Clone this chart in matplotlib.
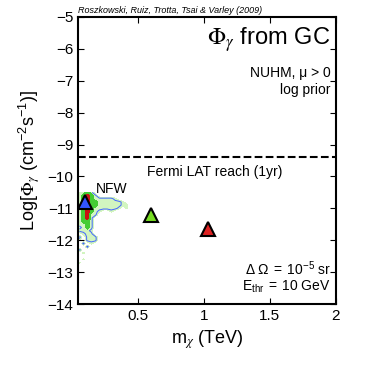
import matplotlib.pyplot as plt
import numpy as np

plt.rcParams['font.family'] = ['Liberation Sans', 'DejaVu Sans']
plt.rcParams['mathtext.fontset'] = 'stix'

# posterior blob, coarse grid
# 0 none, 0.6 stray light pixels, 1 light green, 2 green, 3 red
grid_x = [0.06, 0.09, 0.12, 0.15, 0.18, 0.21, 0.24, 0.27, 0.30, 0.33, 0.36, 0.39, 0.42, 0.45]
grid_y = [-10.5, -10.6, -10.7, -10.8, -10.9, -11.0, -11.1, -11.2, -11.3, -11.4, -11.5, -11.6,
          -11.7, -11.8, -11.9, -12.0, -12.1, -12.2, -12.3, -12.4, -12.5, -12.6, -12.7, -12.8]
grid_v = [
    [1, 1, 2, 1, 0, 0, 0, 0, 0, 0, 0, 0, 0, 0],
    [1, 2, 3, 2, 1, 0, 0, 0, 0, 0, 0, 0, 0, 0],
    [1, 2, 3, 2, 1, 1, 1, 1, 1, 0.6, 0, 0, 0, 0],
    [1, 2, 3, 2, 2, 1, 1, 1, 1, 1, 1, 0.6, 0, 0],
    [1, 2, 3, 2, 2, 1, 1, 1, 1, 1, 1, 0.6, 0.6, 0],
    [1, 2, 3, 2, 1, 1, 1, 1, 1, 1, 0.6, 0, 0.6, 0],
    [1, 2, 3, 2, 1, 0.6, 0, 0, 0.6, 0, 0, 0, 0, 0],
    [1, 2, 3, 1, 1, 0, 0, 0, 0, 0, 0, 0, 0, 0],
    [1, 2, 3, 1, 0, 0, 0, 0, 0, 0, 0, 0, 0, 0],
    [1, 2, 2, 1, 0, 0, 0, 0, 0, 0, 0, 0, 0, 0],
    [1, 1, 2, 1, 0, 0, 0, 0, 0, 0, 0, 0, 0, 0],
    [0.6, 1, 2, 1, 0, 0, 0, 0, 0, 0, 0, 0, 0, 0],
    [1, 1, 1, 0.6, 0, 0, 0, 0, 0, 0, 0, 0, 0, 0],
    [0, 0.6, 1, 1, 0, 0, 0, 0, 0, 0, 0, 0, 0, 0],
    [1, 0, 1, 1, 1, 0, 0, 0, 0, 0, 0, 0, 0, 0],
    [0.6, 0, 1, 1, 1, 0, 0, 0, 0, 0, 0, 0, 0, 0],
    [0, 1, 0, 0.6, 0, 0, 0, 0, 0, 0, 0, 0, 0, 0],
    [0, 0, 1, 0, 0, 0, 0, 0, 0, 0, 0, 0, 0, 0],
    [1, 0, 0, 0, 0, 0, 0, 0, 0, 0, 0, 0, 0, 0],
    [0, 0.6, 0, 0, 0, 0, 0, 0, 0, 0, 0, 0, 0, 0],
    [0, 0, 0, 0, 0, 0, 0, 0, 0, 0, 0, 0, 0, 0],
    [0, 0.6, 0, 0, 0, 0, 0, 0, 0, 0, 0, 0, 0, 0],
    [0.6, 0, 0, 0, 0, 0, 0, 0, 0, 0, 0, 0, 0, 0],
    [0, 0, 0, 0, 0, 0, 0, 0, 0, 0, 0, 0, 0, 0],
]

# benchmark points
bench_x = [0.10, 0.60, 1.03]
bench_y = [-10.8, -11.2, -11.65]
bench_c = ['#3355ff', '#77dd22', '#dd2222']

fermi_reach = -9.4

fig = plt.figure(figsize=(3.74, 3.66), dpi=100)
ax = fig.add_axes([0.209, 0.169, 0.689, 0.785])

X, Y = np.meshgrid(grid_x, grid_y)
V = np.array(grid_v, dtype=float)
ax.contourf(X, Y, V, levels=[0.5, 1.5, 2.5, 3.5],
            colors=['#d2f5c0', '#44cc33', '#cc1111'])
ax.contour(X, Y, V, levels=[0.8], colors='#4466ff', linewidths=0.7)

for bx, by, bc in zip(bench_x, bench_y, bench_c):
    ax.plot(bx, by, '^', color=bc, markersize=10, markeredgecolor='k',
            markeredgewidth=1.5, zorder=5)

ax.axhline(fermi_reach, color='k', linestyle='--', linewidth=1.5)
ax.text(1.08, fermi_reach - 0.45, 'Fermi LAT reach (1yr)', ha='center',
        va='center', fontsize=10)
ax.text(0.3, -10.4, 'NFW', ha='center', va='center', fontsize=10)

ax.text(1.96, -5.7, r'$\Phi_\gamma$ from GC', ha='right', va='center', fontsize=17)
ax.text(1.96, -6.75, 'NUHM, \u03bc > 0', ha='right', va='center', fontsize=10)
ax.text(1.96, -7.3, 'log prior', ha='right', va='center', fontsize=10)
ax.text(1.96, -12.9, r'$\mathregular{\Delta\ \Omega\ =\ 10^{-5}\ sr}$', ha='right', va='center', fontsize=10)
ax.text(1.96, -13.45, r'$\mathregular{E_{thr}\ =\ 10\ GeV}$', ha='right', va='center', fontsize=10)

ax.text(0.0, 1.005, 'Roszkowski, Ruiz, Trotta, Tsai & Varley (2009)',
        transform=ax.transAxes, fontsize=6.5, style='italic', ha='left', va='bottom')

ax.set_xlim(0.05, 2)
ax.set_ylim(-14, -5)
ax.set_xticks([0.5, 1, 1.5, 2])
ax.set_xticklabels(['0.5', '1', '1.5', '2'])
ax.set_yticks(np.arange(-14, -4))
ax.set_yticklabels(['\u2212%d' % abs(v) for v in range(-14, -4)])
ax.tick_params(direction='in', top=True, right=True, labelsize=11, length=4)
ax.set_xlabel('m$_\\chi$ (TeV)', fontsize=13)
ax.set_ylabel(r'Log[$\Phi_\gamma$ $\mathregular{(cm^{-2}s^{-1})}$]', fontsize=13)
for s in ax.spines.values():
    s.set_linewidth(1.5)

fig.savefig('out.png', dpi=100)
